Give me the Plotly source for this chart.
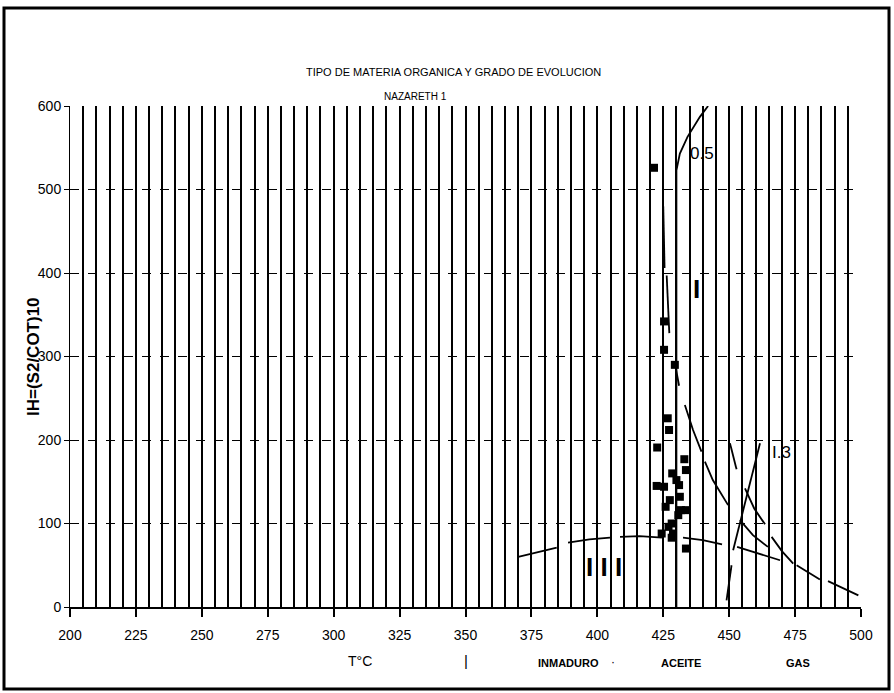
import plotly.graph_objects as go

# Muestras: Tmax (°C) e índice de hidrógeno
tmax = [421.5, 425.3, 425.3, 429.4, 426.7, 427.2, 422.7, 433.0, 433.6, 428.4,
        430.0, 431.0, 422.5, 425.3, 431.3, 427.5, 425.9, 431.7, 433.6, 430.7,
        428.2, 427.0, 428.7, 424.4, 428.2, 433.6]
ih = [526, 342, 308, 290, 226, 212, 191, 177, 164, 160,
      152, 146, 145, 144, 132, 128, 120, 116, 116, 110,
      100, 96, 88, 88, 83, 70]

# Curvas de referencia (tramos separados por None)
iso05_x = [442, 438.9, 434.2, 431.3, 430, 430]
iso05_y = [600, 587, 563, 543, 523, 0]

iso13_x = [461.7, 456.5, 451.5, None, 450.9, 449.0]
iso13_y = [196, 132, 68, None, 50, 8]

tipo2_x = [425.0, 425.5, None, 426.3, 427.3, None, 429.4, 431.0, None,
           433.2, 436.3, 439.5, None, 440.8, 443.8, 449.6, None, 454.1, 459.0, 464.7]
tipo2_y = [480, 406, None, 397, 328, None, 292, 265, None,
           242, 212, 186, None, 174, 152, 122, None, 104, 86, 72]

tipo1_x = [450.3, 452.8, None, 456.0, 459.5, 463.6, None, 466.1, 470.0, 474.3,
           None, 475.6, 480.0, 484.4, None, 487.5, 493.0, 499.0]
tipo1_y = [196, 165, None, 142, 118, 99, None, 84, 67, 52,
           None, 50, 41, 33, None, 31, 23, 14]

tipo3_x = [370.0, 384.6, None, 388.9, 397.0, 404.8, None, 408.6, 416.0, 424.5,
           None, 432.5, 440.0, 447.3, None, 453.0, 461.0, 469.3]
tipo3_y = [60, 71, None, 77, 81, 83, None, 84, 85, 83,
           None, 83, 80, 75, None, 72, 64, 56]

x_ticks = list(range(200, 501, 25))
y_ticks = list(range(0, 601, 100))

# geometría del área de trazado (px)
W, H = 894, 693
L, R, T, B = 70, 33, 106, 86
pw, ph = W - L - R, H - T - B


def px(x):
    return (x - L) / pw


def py(y):
    return (H - B - y) / ph


narrow = "Liberation Sans Narrow, Arial Narrow, Liberation Sans, Arial"
bold = "Liberation Sans, Arial"

fig = go.Figure()

line_style = dict(color="black", width=1.8)
for cx, cy in [(iso05_x, iso05_y), (iso13_x, iso13_y), (tipo2_x, tipo2_y),
               (tipo1_x, tipo1_y), (tipo3_x, tipo3_y)]:
    fig.add_trace(go.Scatter(x=cx, y=cy, mode="lines", line=line_style,
                             connectgaps=False, showlegend=False, hoverinfo="skip"))

fig.add_trace(go.Scatter(
    x=tmax, y=ih, mode="markers",
    marker=dict(symbol="square", size=8, color="black", line=dict(width=0)),
    showlegend=False))

fig.update_layout(
    width=W, height=H,
    margin=dict(l=L, r=R, t=T, b=B),
    paper_bgcolor="white", plot_bgcolor="white",
    font=dict(family=narrow, color="black", size=13),
    xaxis=dict(
        range=[200, 500], tickvals=x_ticks, ticktext=[str(v) for v in x_ticks],
        showgrid=True, gridcolor="black", gridwidth=1.7,
        minor=dict(dtick=5, tick0=200, showgrid=True, gridcolor="black", gridwidth=1.7),
        showline=True, linecolor="black", linewidth=1.5,
        ticks="outside", ticklen=8, tickwidth=1.5, tickcolor="black",
        ticklabelstandoff=6,
        zeroline=False, tickfont=dict(size=14, family=narrow),
    ),
    yaxis=dict(
        range=[0, 600], tickvals=y_ticks, ticktext=[str(v) for v in y_ticks],
        showgrid=True, gridcolor="black", gridwidth=1, griddash="dash",
        showline=True, linecolor="black", linewidth=1,
        ticks="outside", ticklen=5, tickwidth=1, tickcolor="black",
        zeroline=False, tickfont=dict(size=14, family=narrow),
    ),
)

ann = []
ann.append(dict(x=px(453), y=py(64), xref="paper", yref="paper", showarrow=False,
                text="TIPO DE MATERIA ORGANICA Y GRADO DE EVOLUCION",
                font=dict(size=11, family=narrow)))
ann.append(dict(x=px(415), y=py(89), xref="paper", yref="paper", showarrow=False,
                text="NAZARETH 1", font=dict(size=10, family=narrow)))
ann.append(dict(x=px(22), y=0.5, xref="paper", yref="paper", showarrow=False,
                text="<b>IH=(S2/COT)10</b>", textangle=-90,
                font=dict(size=17, family=bold)))
for txt, xx, sz, fam in [("T°C", 360, 14, narrow), ("|", 466, 15, bold),
                         ("<b>INMADURO</b>", 568, 11, bold), ("·", 617, 12, bold),
                         ("<b>ACEITE</b>", 703, 11, bold), ("<b>GAS</b>", 812, 11, bold)]:
    ann.append(dict(x=px(xx), y=py(671), xref="paper", yref="paper", showarrow=False,
                    text=txt, font=dict(size=sz, family=fam)))

ann.append(dict(x=439.8, y=543, showarrow=False, text="0.5", font=dict(size=17, family=bold)))
ann.append(dict(x=469.8, y=185, showarrow=False, text="I.3", font=dict(size=17, family=bold)))
ann.append(dict(x=437.6, y=381, showarrow=False, text="<b>I</b>", font=dict(size=26, family=bold)))
ann.append(dict(x=402.5, y=48, showarrow=False, text="<b>I I I</b>", font=dict(size=26, family=bold)))
fig.update_layout(annotations=ann)

# marco exterior
fig.add_shape(type="rect", xref="paper", yref="paper",
              x0=px(4), x1=px(889), y0=py(689), y1=py(8),
              line=dict(color="black", width=3), layer="above")

fig.write_html("out.html")
